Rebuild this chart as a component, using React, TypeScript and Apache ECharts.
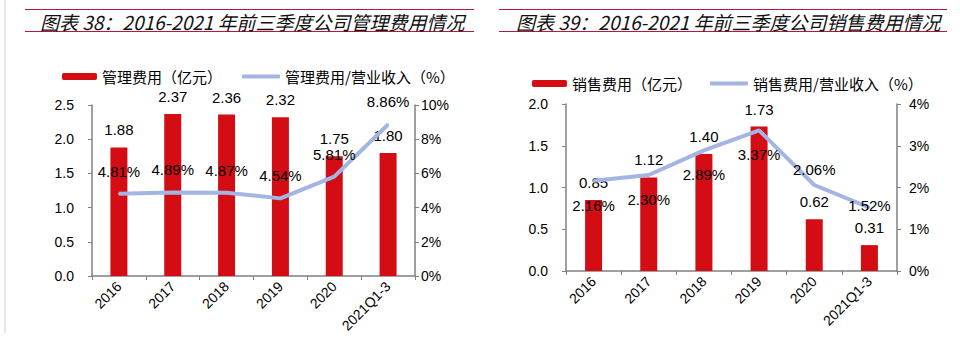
import React, { useEffect, useRef } from "react";
import * as echarts from "echarts";

const categories = ["2016", "2017", "2018", "2019", "2020", "2021Q1-3"];
const adminCost = [1.88, 2.37, 2.36, 2.32, 1.75, 1.8];
const adminRatio = [4.81, 4.89, 4.87, 4.54, 5.81, 8.86];
const salesCost = [0.85, 1.12, 1.4, 1.73, 0.62, 0.31];
const salesRatio = [2.16, 2.3, 2.89, 3.37, 2.06, 1.52];
const salesRatioLabelPos = ["bottom", "bottom", "bottom", "bottom", "top", "inside"];

const title1 = "图表 38：2016-2021 年前三季度公司管理费用情况";
const title2 = "图表 39：2016-2021 年前三季度公司销售费用情况";
const legend1 = ["管理费用（亿元）", "管理费用/营业收入（%）"];
const legend2 = ["销售费用（亿元）", "销售费用/营业收入（%）"];

const BAR = "#D40D14";
const LINE = "#A3B5E2";
const RED_RULE = "#B8173C";
const AXIS = "#808080";
const FONT = "'Liberation Sans', Arial, 'Noto Sans CJK SC', sans-serif";
const CJK = "'Noto Sans CJK SC', 'Liberation Sans', sans-serif";

export default function App() {
  const ref = useRef<HTMLDivElement>(null);
  useEffect(() => {
    if (!ref.current) return;
    const chart = echarts.init(ref.current, undefined, { renderer: "svg" });
    const xAxisBase = (gridIndex: number) => ({
      type: "category" as const,
      gridIndex,
      data: categories,
      axisLine: { lineStyle: { color: AXIS, width: 1.5 } },
      axisTick: { show: true, alignWithLabel: false, length: 4, lineStyle: { color: AXIS } },
      axisLabel: { rotate: 45, color: "#000", fontSize: 14, fontFamily: FONT, margin: 8, interval: 0 },
    });
    const yLeft = (gridIndex: number, max: number, interval: number) => ({
      type: "value" as const,
      gridIndex,
      min: 0,
      max,
      interval,
      position: "left" as const,
      axisLine: { show: true, lineStyle: { color: AXIS, width: 1.5 } },
      axisTick: { show: true, length: 4, lineStyle: { color: AXIS } },
      splitLine: { show: false },
      axisLabel: {
        color: "#000",
        fontSize: 14,
        fontFamily: FONT,
        margin: 18,
        formatter: (v: number) => v.toFixed(1),
      },
    });
    const yRight = (gridIndex: number, max: number, interval: number, margin: number) => ({
      type: "value" as const,
      gridIndex,
      min: 0,
      max,
      interval,
      position: "right" as const,
      axisLine: { show: true, lineStyle: { color: AXIS, width: 1.5 } },
      axisTick: { show: true, length: 4, lineStyle: { color: AXIS } },
      splitLine: { show: false },
      axisLabel: { color: "#000", fontSize: 14, fontFamily: FONT, margin, formatter: "{value}%" },
    });
    const labelStyle = { color: "#000", fontSize: 15, fontFamily: FONT };
    const titleStyle = {
      fontSize: 19,
      fontStyle: "italic" as const,
      fontWeight: "normal" as const,
      fontFamily: CJK,
      color: "#111",
    };
    const legendText = { fontSize: 15, fontFamily: CJK, color: "#000" };
    const option = {
      animation: false,
      title: [
        { text: title1, left: 35, top: 7, textStyle: titleStyle },
        { text: title2, left: 511, top: 7, textStyle: titleStyle },
      ],
      legend: [
        {
          data: [legend1[0]],
          left: 57,
          top: 64,
          itemWidth: 35,
          itemHeight: 7,
          textStyle: legendText,
        },
        {
          data: [{ name: legend1[1], icon: "roundRect" }],
          left: 237,
          top: 64,
          itemWidth: 38,
          itemHeight: 4,
          textStyle: legendText,
        },
        {
          data: [legend2[0]],
          left: 527,
          top: 71,
          itemWidth: 35,
          itemHeight: 7,
          textStyle: legendText,
        },
        {
          data: [{ name: legend2[1], icon: "roundRect" }],
          left: 705,
          top: 71,
          itemWidth: 38,
          itemHeight: 4,
          textStyle: legendText,
        },
      ],
      grid: [
        { left: 92, right: 545, top: 105, bottom: 68 },
        { left: 566, right: 63, top: 104, bottom: 73 },
      ],
      xAxis: [xAxisBase(0), xAxisBase(1)],
      yAxis: [yLeft(0, 2.5, 0.5), yRight(0, 10, 2, 6), yLeft(1, 2.0, 0.5), yRight(1, 4, 1, 12)],
      series: [
        {
          name: legend1[0],
          type: "bar",
          xAxisIndex: 0,
          yAxisIndex: 0,
          data: adminCost,
          barWidth: 17,
          itemStyle: { color: BAR },
          label: { show: true, position: "top", distance: 10, ...labelStyle, formatter: (p: any) => p.value.toFixed(2) },
        },
        {
          name: legend1[1],
          type: "line",
          xAxisIndex: 0,
          yAxisIndex: 1,
          data: adminRatio,
          symbol: "circle",
          symbolSize: 2,
          showSymbol: true,
          lineStyle: { color: LINE, width: 4 },
          itemStyle: { color: LINE },
          z: 5,
          label: { show: true, position: "top", distance: 14, ...labelStyle, formatter: (p: any) => p.value.toFixed(2) + "%" },
        },
        {
          name: legend2[0],
          type: "bar",
          xAxisIndex: 1,
          yAxisIndex: 2,
          data: salesCost,
          barWidth: 17,
          itemStyle: { color: BAR },
          label: { show: true, position: "top", distance: 10, ...labelStyle, formatter: (p: any) => p.value.toFixed(2) },
        },
        {
          name: legend2[1],
          type: "line",
          xAxisIndex: 1,
          yAxisIndex: 3,
          data: salesRatio.map((v, i) => ({
            value: v,
            label: {
              position: salesRatioLabelPos[i],
              distance: salesRatioLabelPos[i] === "top" ? 7 : 16,
              offset: salesRatioLabelPos[i] === "inside" ? [0, -2] : [0, 0],
            },
          })),
          symbol: "circle",
          symbolSize: 2,
          showSymbol: true,
          lineStyle: { color: LINE, width: 4 },
          itemStyle: { color: LINE },
          z: 5,
          label: { show: true, ...labelStyle, formatter: (p: any) => p.value.toFixed(2) + "%" },
        },
      ],
      graphic: [
        { type: "line", shape: { x1: 5, y1: 0, x2: 5, y2: 333 }, style: { stroke: "#cfcfcf", lineWidth: 1 } },
        { type: "line", shape: { x1: 25, y1: 9.5, x2: 474, y2: 9.5 }, style: { stroke: RED_RULE, lineWidth: 1.2 } },
        { type: "line", shape: { x1: 25, y1: 31.5, x2: 474, y2: 31.5 }, style: { stroke: RED_RULE, lineWidth: 1.2 } },
        { type: "line", shape: { x1: 499, y1: 9.5, x2: 947, y2: 9.5 }, style: { stroke: RED_RULE, lineWidth: 1.2 } },
        { type: "line", shape: { x1: 499, y1: 31.5, x2: 947, y2: 31.5 }, style: { stroke: RED_RULE, lineWidth: 1.2 } },
      ],
    };
    chart.setOption(option as any);
    return () => chart.dispose();
  }, []);
  return (
    <div
      ref={ref}
      style={{ position: "absolute", left: 0, top: 0, width: 960, height: 344, background: "#fff" }}
    />
  );
}
